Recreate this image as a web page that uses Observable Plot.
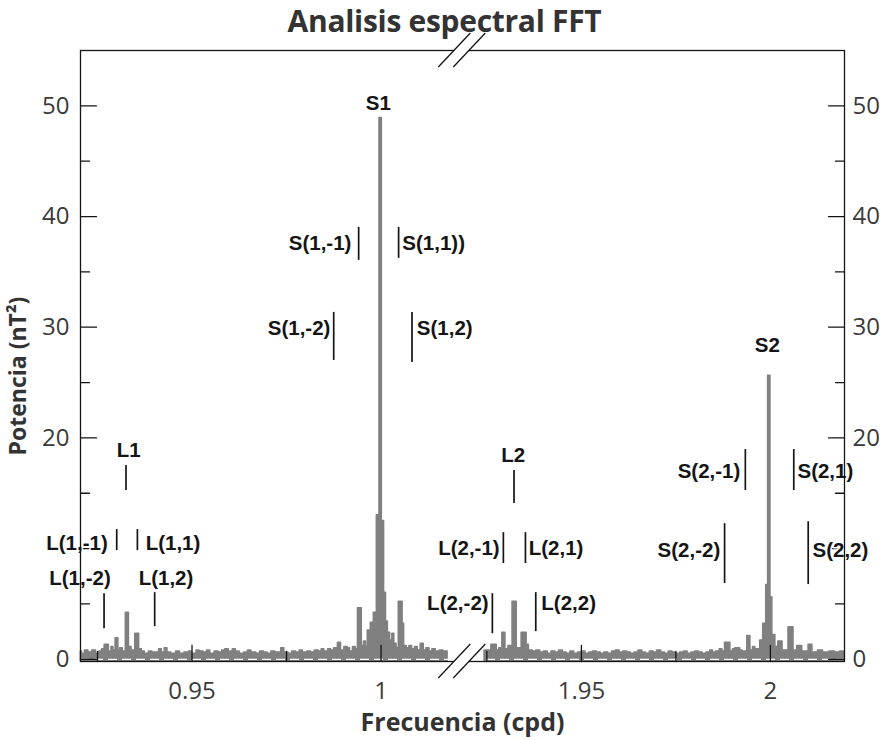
<!DOCTYPE html>
<html><head><meta charset="utf-8">
<script src="https://cdn.jsdelivr.net/npm/d3@7"></script>
<script src="https://cdn.jsdelivr.net/npm/@observablehq/plot@0.6"></script>
<style>
body{margin:0;background:#fff;}
#title{height:38px;line-height:42px;text-align:center;font:700 30px "Open Sans","DejaVu Sans",sans-serif;color:#333;white-space:nowrap;letter-spacing:-0.3px}
#chart svg{overflow:visible;display:block}
</style></head><body>
<div id="title">Analisis espectral FFT</div>
<div id="chart"></div>
<script>
// spectrum, lower band (cpd, nT²) — step-after bins
const leftSpectrum = [
[0.9206,0.7],[0.9209,0.5],[0.9217,0.8],[0.9226,0.6],[0.9236,0.8],[0.9246,0.5],[0.9255,0.7],[0.9262,0.9],
[0.9269,1.3],[0.9280,0.7],[0.9287,1.1],[0.9292,0.8],[0.9298,1.9],[0.9305,0.8],[0.9310,1.0],[0.9317,0.7],
[0.9325,4.2],[0.9333,1.1],[0.9340,0.8],[0.9350,2.3],[0.9360,0.9],[0.9367,0.7],[0.9375,0.5],[0.9386,0.7],
[0.9395,0.6],[0.9405,0.6],[0.9413,0.9],[0.9420,0.6],[0.9428,1.0],[0.9435,0.6],[0.9445,0.5],[0.9458,0.7],
[0.9468,0.5],[0.9480,0.6],[0.9492,0.7],[0.9500,0.5],[0.9512,0.8],[0.9520,0.7],[0.9530,0.6],[0.9540,0.8],
[0.9548,0.5],[0.9560,0.7],[0.9570,0.6],[0.9580,0.8],[0.9588,0.9],[0.9597,0.7],[0.9608,0.9],[0.9616,0.7],
[0.9626,0.5],[0.9638,0.6],[0.9648,0.8],[0.9657,0.6],[0.9670,0.5],[0.9680,0.7],[0.9690,0.6],[0.9700,0.5],
[0.9710,0.7],[0.9720,0.6],[0.9736,1.0],[0.9744,0.6],[0.9755,0.5],[0.9765,0.7],[0.9775,0.6],[0.9785,0.8],
[0.9793,0.6],[0.9805,0.7],[0.9815,0.6],[0.9825,0.8],[0.9835,0.7],[0.9843,0.9],[0.9850,0.7],[0.9860,0.9],
[0.9868,0.8],[0.9876,1.0],[0.9886,1.5],[0.9894,0.8],[0.9903,1.1],[0.9912,1.0],[0.9918,0.7],[0.9926,1.1],
[0.9933,0.9],[0.9939,4.6],[0.9949,1.2],[0.9955,1.6],[0.9960,1.1],[0.9965,2.6],[0.9973,3.3],[0.9981,4.2],
[0.9989,13.0],[0.9996,48.9],[1.0002,12.5],[1.0008,6.0],[1.0013,3.4],[1.0018,2.4],[1.0024,1.7],[1.0030,2.3],
[1.0035,1.4],[1.0041,1.0],[1.0047,5.2],[1.0057,3.2],[1.0061,1.2],[1.0068,1.0],[1.0075,1.2],[1.0082,0.9],
[1.0090,1.1],[1.0097,0.8],[1.0105,1.4],[1.0113,0.8],[1.0120,1.0],[1.0128,0.7],[1.0136,0.9],[1.0145,0.7],
[1.0155,0.8],[1.0165,0.7],[1.0176,0.7]
];
// spectrum, upper band
const rightSpectrum = [
[1.9244,0.8],[1.9262,1.3],[1.9276,0.8],[1.9283,1.0],[1.9291,2.4],[1.9299,0.9],[1.9307,1.2],[1.9318,5.2],
[1.9329,1.0],[1.9342,2.4],[1.9355,1.3],[1.9361,0.8],[1.9371,0.7],[1.9381,0.8],[1.9391,0.6],[1.9401,0.7],
[1.9411,0.5],[1.9421,0.7],[1.9431,0.6],[1.9441,0.8],[1.9451,0.6],[1.9461,0.5],[1.9471,0.7],[1.9481,0.5],
[1.9491,0.6],[1.9501,0.7],[1.9511,0.5],[1.9521,0.6],[1.9531,0.7],[1.9541,0.6],[1.9551,0.5],[1.9561,0.6],
[1.9571,0.5],[1.9581,0.7],[1.9591,0.8],[1.9601,0.6],[1.9611,0.7],[1.9621,0.6],[1.9631,0.5],[1.9641,0.6],
[1.9651,0.8],[1.9661,0.6],[1.9671,0.5],[1.9681,0.7],[1.9691,0.6],[1.9701,0.8],[1.9711,0.6],[1.9721,0.5],
[1.9731,0.7],[1.9741,0.6],[1.9751,0.5],[1.9761,0.6],[1.9771,0.7],[1.9781,0.5],[1.9791,0.6],[1.9801,0.7],
[1.9811,0.6],[1.9821,0.5],[1.9831,0.6],[1.9841,0.8],[1.9848,0.6],[1.9856,0.7],[1.9866,0.9],[1.9873,0.7],
[1.9880,1.5],[1.9894,0.7],[1.9901,0.9],[1.9907,1.0],[1.9920,0.8],[1.9926,0.7],[1.9939,2.1],[1.9947,0.8],
[1.9954,1.1],[1.9960,0.9],[1.9973,1.7],[1.9981,3.2],[1.9989,6.7],[1.9994,25.6],[2.0000,5.6],[2.0005,2.2],
[2.0013,1.1],[2.0021,1.6],[2.0032,0.8],[2.0048,2.9],[2.0061,0.8],[2.0071,1.2],[2.0084,0.7],[2.0101,1.3],
[2.0111,0.6],[2.0126,0.8],[2.0139,0.6],[2.0156,0.7],[2.0171,0.6],[2.0184,0.7],[2.0194,0.7]
];

const xSegLow = [0.9205, 1.02];
const xSegHigh = [1.92, 2.0196];
const xBreakGap = 0.003;   // width of the axis break, in cpd
const yDomain = [-0.2, 55];
const xTicksMajor = [0.95, 1, 1.95, 2];
const xTicksMinor = [0.925, 0.975, 1.925, 1.975];
const yTicksMajor = [0, 10, 20, 30, 40, 50];
const yTicksMinor = [5, 15, 25, 35, 45];
const yTickLabels = [0, 20, 30, 40, 50];

const annotLabels = ["S1","S(1,-1)","S(1,1))","S(1,-2)","S(1,2)","L1","L(1,-1)","L(1,1)","L(1,-2)","L(1,2)","L2","L(2,-1)","L(2,1)","L(2,-2)","L(2,2)","S2","S(2,-1)","S(2,1)","S(2,-2)","S(2,2)"];
const annotX = [0.99929,0.99216,1.00563,0.98661,1.00946,0.93325,0.92771,0.93773,0.92850,0.93588,1.93196,1.92838,1.93607,1.92546,1.93939,1.99920,1.99204,2.00716,1.98674,2.01114];
const annotY = [50.24,37.57,37.57,29.89,29.89,18.86,10.45,10.45,7.29,7.29,18.41,10.0,10.0,5.03,5.03,28.35,16.96,16.96,9.82,9.82];
const annotSide = ["center","left","right","left","right","center","left","right","left","right","center","left","right","left","right","center","left","right","left","right"];

const markerNames = ["S(1,-1)","S(1,1)","S(1,-2)","S(1,2)","L1","L(1,-1)","L(1,1)","L(1,-2)","L(1,2)","L2","L(2,-1)","L(2,1)","L(2,-2)","L(2,2)","S(2,-1)","S(2,1)","S(2,-2)","S(2,2)"];
const markerX = [0.99408,1.00465,0.98748,1.00819,0.93254,0.93008,0.93555,0.92673,0.94012,1.93218,1.92936,1.93520,1.92645,1.93793,1.99337,2.00618,1.98788,2.01000];
const markerLow = [36.04,36.22,27.0,26.82,15.24,9.82,9.82,2.77,2.95,14.07,8.65,8.65,2.31,2.50,15.24,15.24,6.84,6.75];
const markerHigh = [39.02,39.02,31.34,31.34,17.50,11.72,11.72,5.93,6.02,17.05,11.44,11.44,5.93,6.02,18.95,18.95,12.25,12.43];

// tables
const spectrum = [
  ...leftSpectrum.map(([f, p]) => ({f, p, seg: "low"})),
  ...rightSpectrum.map(([f, p]) => ({f, p, seg: "high"}))
];
const annots = annotLabels.map((t, i) => ({t, x: annotX[i], y: annotY[i], side: annotSide[i]}));
const markers = markerNames.map((n, i) => ({n, x: markerX[i], y1: markerLow[i], y2: markerHigh[i]}));

// broken axis: the upper band is shifted next to the lower band
const shift = xSegHigh[0] - xSegLow[1] - xBreakGap;
const breakAxis = f => (f > (xSegLow[1] + xSegHigh[0]) / 2 ? f - shift : f);

const W = 889, H = 702, mL = 80, mR = 45, mT = 12, mB = 79;
const ink = "#151515";
const tickShape = {draw(ctx, l) { ctx.moveTo(0, 0); ctx.lineTo(0, -l); }};
const font = '"Open Sans","DejaVu Sans",sans-serif';
const annFont = '"Liberation Sans",Arial,sans-serif';

function breakMarks(index, scales, values, dims) {
  const cx = (scales.x(breakAxis(xSegLow[1])) + scales.x(breakAxis(xSegHigh[0]))) / 2;
  const yTop = dims.marginTop, yBot = dims.height - dims.marginBottom;
  const g = d3.create("svg:g");
  const h = 17, w = 16, gap = 7.5;
  for (const y of [yTop, yBot]) {
    g.append("path")
      .attr("d", `M${cx - gap - w},${y + h}L${cx - gap + w},${y - h}L${cx + gap + w},${y - h}L${cx + gap - w},${y + h}Z`)
      .attr("fill", "white");
    for (const o of [-gap, gap]) {
      g.append("line").attr("x1", cx + o - w).attr("y1", y + h).attr("x2", cx + o + w).attr("y2", y - h)
        .attr("stroke", ink).attr("stroke-width", 1.3);
    }
  }
  return g.node();
}

const textCommon = {x: "x", y: "y", text: "t", fontSize: 20.5, fontWeight: "bold", fontFamily: annFont,
  fill: ink, stroke: "white", strokeWidth: 3, lineAnchor: "middle"};
const tickTextStyle = {fontSize: 24, fill: "#3a3a3a"};

const chart = Plot.plot({
  width: W, height: H,
  marginLeft: mL, marginRight: mR, marginTop: mT, marginBottom: mB,
  style: {fontFamily: font, background: "white", color: "#333"},
  x: {type: "linear", axis: null, transform: breakAxis, domain: [breakAxis(xSegLow[0]), breakAxis(xSegHigh[1])]},
  y: {domain: yDomain},
  marks: [
    Plot.area(spectrum, {x1: "f", y1: yDomain[0], y2: "p", z: "seg", curve: "step-after",
      fill: "#808080", stroke: "#808080", strokeWidth: 1.6}),
    Plot.ruleY([0], {stroke: "white", strokeWidth: 1.3, strokeDasharray: "9,5"}),
    // inward ticks
    Plot.vector(xTicksMajor, {x: d => d, y: yDomain[0], length: 16, rotate: 0, anchor: "start", shape: tickShape, stroke: ink, strokeWidth: 1.3}),
    Plot.vector(xTicksMinor, {x: d => d, y: yDomain[0], length: 10, rotate: 0, anchor: "start", shape: tickShape, stroke: ink, strokeWidth: 1.3}),
    Plot.vector(yTicksMajor, {x: xSegLow[0], y: d => d, length: 16, rotate: 90, anchor: "start", shape: tickShape, stroke: ink, strokeWidth: 1.3}),
    Plot.vector(yTicksMinor, {x: xSegLow[0], y: d => d, length: 9, rotate: 90, anchor: "start", shape: tickShape, stroke: ink, strokeWidth: 1.3}),
    Plot.vector(yTicksMajor, {x: xSegHigh[1], y: d => d, length: 16, rotate: -90, anchor: "start", shape: tickShape, stroke: ink, strokeWidth: 1.3}),
    Plot.vector(yTicksMinor, {x: xSegHigh[1], y: d => d, length: 9, rotate: -90, anchor: "start", shape: tickShape, stroke: ink, strokeWidth: 1.3}),
    // harmonic markers
    Plot.ruleX(markers, {x: "x", y1: "y1", y2: "y2", stroke: ink, strokeWidth: 1.7}),
    Plot.text(annots.filter(d => d.side === "center"), {...textCommon, textAnchor: "middle"}),
    Plot.text(annots.filter(d => d.side === "left"), {...textCommon, textAnchor: "end"}),
    Plot.text(annots.filter(d => d.side === "right"), {...textCommon, textAnchor: "start"}),
    Plot.frame({stroke: ink, strokeWidth: 1.3}),
    breakMarks,
    // tick labels
    Plot.text(xTicksMajor, {x: d => d, frameAnchor: "bottom", text: d => String(d), textAnchor: "middle", lineAnchor: "top", dy: 20, ...tickTextStyle}),
    Plot.axisY({anchor: "left", ticks: yTickLabels, tickSize: 0, tickPadding: 11, label: null, ...tickTextStyle}),
    Plot.axisY({anchor: "right", ticks: yTickLabels, tickSize: 0, tickPadding: 8, label: null, ...tickTextStyle}),
    // axis titles
    Plot.text(["Frecuencia (cpd)"], {frameAnchor: "bottom", dy: 61, textAnchor: "middle", lineAnchor: "middle", fontSize: 25, fontWeight: 700, fill: "#333"}),
    Plot.text(["Potencia (nT²)"], {frameAnchor: "left", rotate: -90, dx: -62, dy: 20, textAnchor: "middle", lineAnchor: "middle", fontSize: 23, fontWeight: 700, fill: "#333"})
  ]
});
document.getElementById("chart").appendChild(chart);
</script>
</body></html>
